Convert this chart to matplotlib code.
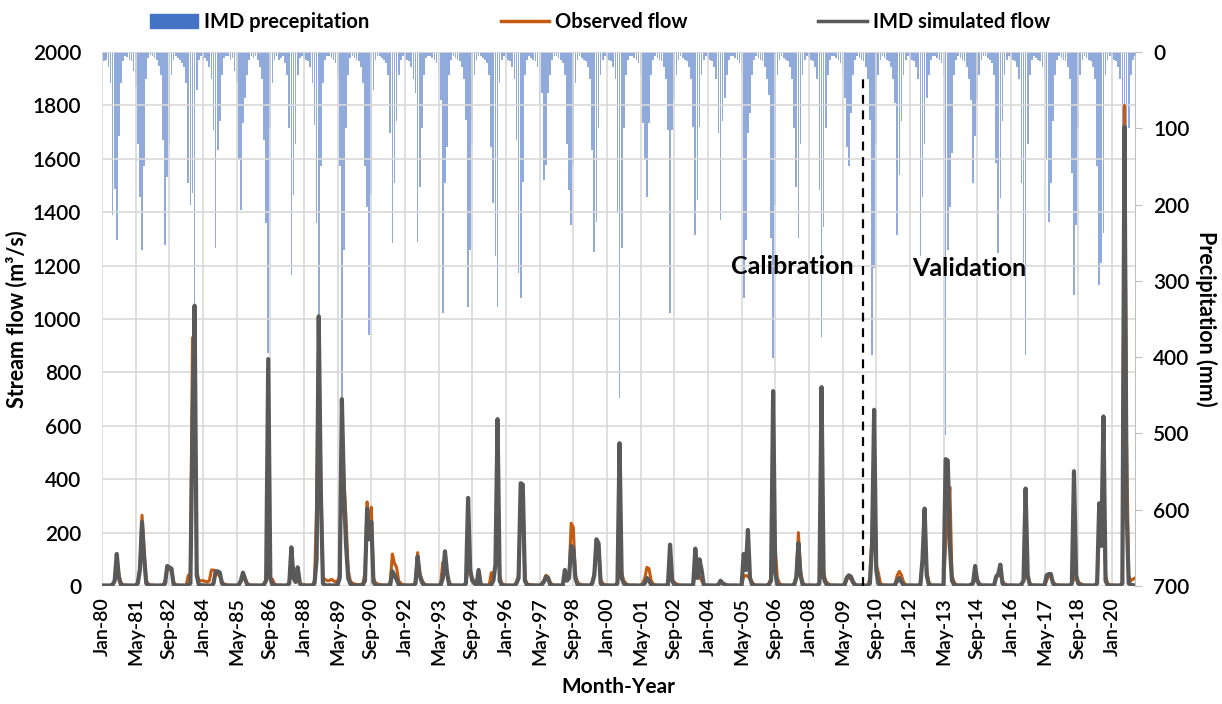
import matplotlib.pyplot as plt
from matplotlib.patches import Patch
from matplotlib.lines import Line2D
import numpy as np

plt.rcParams['font.family'] = ['Lato', 'DejaVu Sans']

# ============================================
# Monthly series, Jan-1980 .. Dec-2020 (one row per year, Jan..Dec)
# ============================================
precip = [
    8, 12, 10, 20, 40, 214, 180, 246, 110, 40, 12, 5,      # 1980
    6, 10, 12, 25, 45, 120, 190, 260, 150, 35, 8, 4,       # 1981
    5, 8, 10, 18, 30, 115, 253, 164, 120, 30, 10, 5,       # 1982
    8, 10, 15, 20, 40, 172, 200, 185, 330, 50, 10, 5,      # 1983
    10, 8, 12, 20, 35, 102, 257, 128, 90, 30, 8, 5,        # 1984
    5, 10, 8, 25, 40, 142, 207, 93, 60, 30, 10, 5,         # 1985
    8, 5, 10, 20, 35, 115, 224, 395, 100, 40, 10, 5,       # 1986
    10, 8, 5, 15, 30, 100, 292, 187, 120, 30, 8, 5,        # 1987
    8, 10, 12, 20, 40, 96, 224, 347, 150, 40, 10, 5,       # 1988
    5, 8, 10, 15, 35, 150, 453, 260, 100, 30, 8, 5,        # 1989
    8, 10, 12, 20, 40, 150, 203, 371, 187, 50, 10, 5,      # 1990
    5, 8, 10, 15, 30, 106, 250, 172, 90, 30, 10, 5,        # 1991
    8, 10, 12, 20, 35, 54, 249, 177, 100, 30, 8, 5,        # 1992
    5, 8, 10, 15, 30, 63, 342, 172, 124, 30, 10, 5,        # 1993
    8, 10, 12, 20, 35, 89, 334, 260, 120, 30, 10, 5,       # 1994
    5, 8, 10, 15, 30, 124, 198, 268, 334, 40, 10, 5,       # 1995
    8, 10, 12, 20, 35, 115, 290, 322, 170, 30, 10, 5,      # 1996
    8, 10, 12, 20, 69, 54, 168, 148, 54, 30, 10, 5,        # 1997
    5, 8, 10, 15, 30, 120, 181, 227, 150, 40, 10, 5,       # 1998
    8, 10, 12, 20, 35, 128, 262, 223, 100, 30, 10, 5,      # 1999
    8, 10, 12, 20, 35, 211, 453, 257, 100, 30, 10, 5,      # 2000
    5, 8, 10, 15, 30, 93, 142, 190, 93, 30, 10, 5,         # 2001
    8, 10, 12, 20, 35, 102, 342, 102, 60, 30, 10, 5,       # 2002
    8, 10, 12, 20, 35, 98, 240, 194, 98, 30, 10, 5,        # 2003
    8, 10, 12, 20, 35, 106, 220, 90, 60, 30, 10, 5,        # 2004
    5, 8, 10, 15, 30, 322, 246, 106, 80, 30, 10, 5,        # 2005
    8, 10, 12, 20, 35, 56, 244, 401, 200, 30, 10, 5,       # 2006
    8, 10, 12, 20, 35, 100, 177, 244, 120, 30, 10, 5,      # 2007
    8, 10, 12, 20, 35, 181, 373, 229, 100, 30, 10, 5,      # 2008
    5, 8, 10, 15, 30, 60, 124, 150, 80, 30, 10, 5,         # 2009
    8, 10, 12, 20, 35, 89, 397, 283, 120, 30, 10, 5,       # 2010
    8, 10, 12, 20, 35, 67, 240, 161, 90, 30, 10, 5,        # 2011
    8, 10, 12, 20, 35, 268, 190, 120, 60, 30, 10, 5,       # 2012
    5, 8, 10, 15, 30, 502, 260, 203, 132, 30, 10, 5,       # 2013
    8, 10, 12, 20, 35, 63, 172, 110, 63, 30, 10, 5,        # 2014
    5, 8, 10, 15, 30, 146, 264, 192, 90, 30, 10, 5,        # 2015
    8, 10, 12, 20, 35, 172, 277, 397, 120, 30, 10, 5,      # 2016
    8, 10, 12, 20, 35, 142, 223, 172, 90, 30, 10, 5,       # 2017
    8, 10, 12, 20, 35, 159, 318, 227, 100, 30, 10, 5,      # 2018
    8, 10, 12, 20, 35, 150, 305, 277, 237, 30, 10, 5,      # 2019
    8, 10, 12, 20, 35, 205, 181, 148, 100, 30, 10, 5,      # 2020
]

observed = [
    2, 2, 2, 2, 2, 5, 15, 110, 45, 12, 5, 3,               # 1980
    3, 2, 2, 2, 2, 15, 70, 265, 130, 20, 8, 4,             # 1981
    3, 2, 2, 2, 2, 3, 20, 70, 60, 65, 15, 5,               # 1982
    3, 2, 2, 2, 2, 40, 45, 930, 800, 60, 20, 20,           # 1983
    20, 18, 15, 20, 60, 60, 55, 45, 35, 15, 8, 5,          # 1984
    3, 3, 2, 2, 2, 5, 15, 45, 30, 10, 5, 3,                # 1985
    3, 3, 2, 2, 2, 10, 25, 35, 30, 25, 8, 3,               # 1986
    3, 3, 2, 2, 2, 15, 100, 60, 40, 65, 15, 5,             # 1987
    5, 3, 3, 3, 3, 20, 300, 950, 400, 30, 25, 20,          # 1988
    20, 25, 20, 15, 20, 40, 650, 400, 250, 60, 20, 10,     # 1989
    8, 5, 5, 5, 10, 50, 315, 200, 295, 30, 12, 8,          # 1990
    5, 4, 3, 3, 3, 15, 120, 85, 70, 20, 10, 5,             # 1991
    4, 3, 3, 3, 3, 15, 125, 50, 25, 10, 5, 3,              # 1992
    3, 3, 2, 2, 2, 10, 90, 80, 40, 15, 5, 3,               # 1993
    3, 3, 2, 2, 2, 15, 60, 45, 30, 15, 10, 8,              # 1994
    5, 3, 2, 2, 2, 50, 40, 70, 500, 40, 10, 5,             # 1995
    3, 3, 2, 2, 2, 15, 40, 350, 360, 30, 10, 5,            # 1996
    5, 4, 3, 3, 3, 10, 20, 40, 35, 15, 5, 3,               # 1997
    3, 3, 2, 2, 40, 25, 30, 235, 220, 40, 15, 8,           # 1998
    5, 4, 3, 3, 3, 15, 50, 170, 160, 25, 10, 5,            # 1999
    3, 3, 2, 2, 2, 15, 450, 50, 20, 10, 5, 3,              # 2000
    3, 3, 2, 2, 2, 10, 30, 70, 65, 20, 8, 4,               # 2001
    3, 3, 2, 2, 2, 10, 30, 25, 15, 8, 5, 3,                # 2002
    3, 3, 2, 2, 2, 10, 40, 40, 35, 20, 8, 4,               # 2003
    3, 3, 2, 2, 2, 5, 15, 10, 8, 5, 3, 2,                  # 2004
    3, 3, 2, 2, 2, 35, 40, 35, 30, 15, 5, 3,               # 2005
    3, 3, 2, 2, 2, 10, 30, 100, 140, 30, 10, 5,            # 2006
    3, 3, 2, 2, 2, 10, 40, 200, 60, 15, 5, 3,              # 2007
    3, 3, 2, 2, 2, 15, 600, 50, 20, 10, 5, 3,              # 2008
    3, 3, 2, 2, 2, 10, 35, 30, 25, 10, 5, 3,               # 2009
    3, 3, 2, 2, 2, 30, 200, 500, 80, 50, 10, 5,            # 2010
    3, 3, 2, 2, 2, 10, 40, 55, 40, 15, 5, 3,               # 2011
    3, 3, 2, 2, 2, 10, 100, 200, 60, 15, 5, 3,             # 2012
    3, 3, 2, 2, 2, 150, 250, 370, 40, 15, 5, 3,            # 2013
    3, 3, 2, 2, 2, 5, 15, 60, 25, 10, 5, 3,                # 2014
    3, 3, 2, 2, 2, 30, 40, 40, 20, 8, 4, 3,                # 2015
    3, 3, 2, 2, 2, 10, 20, 40, 30, 10, 5, 3,               # 2016
    3, 3, 2, 2, 2, 20, 40, 35, 15, 8, 4, 3,                # 2017
    3, 3, 2, 2, 2, 10, 25, 30, 15, 10, 5, 3,               # 2018
    3, 3, 2, 2, 2, 15, 200, 150, 500, 40, 10, 5,           # 2019
    3, 3, 2, 2, 2, 15, 1800, 545, 40, 20, 25, 30,          # 2020
]

simulated = [
    2, 2, 2, 2, 2, 5, 20, 120, 30, 5, 2, 2,                # 1980
    2, 2, 2, 2, 2, 10, 60, 240, 110, 10, 3, 2,             # 1981
    2, 2, 2, 2, 2, 3, 10, 75, 70, 65, 5, 2,                # 1982
    2, 2, 2, 2, 2, 5, 10, 600, 1050, 40, 5, 2,             # 1983
    3, 2, 2, 2, 2, 10, 55, 55, 50, 10, 3, 2,               # 1984
    2, 2, 2, 2, 2, 5, 20, 50, 25, 5, 2, 2,                 # 1985
    2, 2, 2, 2, 2, 5, 20, 850, 30, 5, 2, 2,                # 1986
    2, 2, 2, 2, 2, 10, 145, 30, 15, 70, 10, 2,             # 1987
    2, 2, 2, 2, 2, 10, 100, 1010, 350, 10, 3, 2,           # 1988
    3, 2, 2, 2, 5, 30, 700, 350, 150, 30, 8, 3,            # 1989
    2, 2, 2, 2, 5, 20, 290, 175, 240, 15, 3, 2,            # 1990
    2, 2, 2, 2, 2, 5, 55, 40, 25, 5, 2, 2,                 # 1991
    2, 2, 2, 2, 2, 10, 110, 40, 15, 3, 2, 2,               # 1992
    2, 2, 2, 2, 2, 5, 30, 130, 50, 5, 2, 2,                # 1993
    2, 2, 2, 2, 2, 10, 330, 60, 20, 10, 5, 60,             # 1994
    5, 2, 2, 2, 2, 5, 20, 80, 625, 20, 3, 2,               # 1995
    2, 2, 2, 2, 2, 10, 30, 385, 380, 20, 3, 2,             # 1996
    2, 2, 2, 2, 2, 5, 15, 35, 30, 5, 2, 2,                 # 1997
    2, 2, 2, 2, 60, 20, 30, 150, 140, 30, 5, 2,            # 1998
    2, 2, 2, 2, 2, 10, 40, 175, 160, 10, 3, 2,             # 1999
    2, 2, 2, 2, 2, 10, 535, 30, 10, 3, 2, 2,               # 2000
    2, 2, 2, 2, 2, 5, 10, 30, 20, 5, 2, 2,                 # 2001
    2, 2, 2, 2, 2, 5, 155, 20, 5, 2, 2, 2,                 # 2002
    2, 2, 2, 2, 2, 5, 140, 30, 100, 60, 5, 2,              # 2003
    2, 2, 2, 2, 2, 5, 20, 10, 5, 2, 2, 2,                  # 2004
    2, 2, 2, 2, 2, 120, 60, 210, 30, 5, 2, 2,              # 2005
    2, 2, 2, 2, 2, 5, 20, 730, 50, 5, 2, 2,                # 2006
    2, 2, 2, 2, 2, 5, 30, 160, 40, 5, 2, 2,                # 2007
    2, 2, 2, 2, 2, 10, 745, 30, 10, 3, 2, 2,               # 2008
    2, 2, 2, 2, 2, 5, 30, 40, 35, 15, 3, 2,                # 2009
    2, 2, 2, 2, 2, 10, 150, 660, 60, 10, 3, 2,             # 2010
    2, 2, 2, 2, 2, 5, 20, 30, 15, 3, 2, 2,                 # 2011
    2, 2, 2, 2, 2, 5, 100, 290, 40, 5, 2, 2,               # 2012
    2, 2, 2, 2, 2, 475, 470, 150, 20, 5, 2, 2,             # 2013
    2, 2, 2, 2, 2, 5, 10, 75, 20, 5, 2, 2,                 # 2014
    2, 2, 2, 2, 2, 35, 45, 80, 10, 3, 2, 2,                # 2015
    2, 2, 2, 2, 2, 5, 20, 365, 40, 5, 2, 2,                # 2016
    2, 2, 2, 2, 2, 40, 45, 45, 10, 3, 2, 2,                # 2017
    2, 2, 2, 2, 2, 10, 430, 40, 10, 5, 2, 2,               # 2018
    2, 2, 2, 2, 2, 10, 310, 150, 635, 20, 3, 2,            # 2019
    2, 2, 2, 2, 2, 10, 1720, 290, 10, 5, 3, 2,             # 2020
]

tick_labels = ['Jan-80', 'May-81', 'Sep-82', 'Jan-84', 'May-85', 'Sep-86',
               'Jan-88', 'May-89', 'Sep-90', 'Jan-92', 'May-93', 'Sep-94',
               'Jan-96', 'May-97', 'Sep-98', 'Jan-00', 'May-01', 'Sep-02',
               'Jan-04', 'May-05', 'Sep-06', 'Jan-08', 'May-09', 'Sep-10',
               'Jan-12', 'May-13', 'Sep-14', 'Jan-16', 'May-17', 'Sep-18',
               'Jan-20']
tick_step = 16            # one label every 16 months
split_month = 361.5       # calibration / validation boundary

months = np.arange(len(precip))

# ============================================
# Figure
# ============================================
fig = plt.figure(figsize=(12.22, 7.04), dpi=100)
ax = fig.add_axes([0.0835, 0.1676, 0.8453, 0.7585])
ax2 = ax.twinx()

# precipitation bars on the inverted right axis
ax2.bar(months, precip, width=0.8, color='#4472C4', alpha=0.6, linewidth=0)
ax2.set_ylim(700, 0)
ax2.set_yticks(np.arange(0, 701, 100))
ax2.tick_params(axis='y', length=5, color='#BFBFBF', labelsize=15, pad=8)
for s in ['top', 'left', 'bottom']:
    ax2.spines[s].set_visible(False)
ax2.spines['right'].set_color('#BFBFBF')
ax2.set_ylabel('Precipitation (mm)', fontsize=15.5, fontweight='bold',
               rotation=270, labelpad=20)

# flow lines on the left axis, drawn above the bars
ax.set_zorder(ax2.get_zorder() + 1)
ax.patch.set_visible(False)
ax.plot(months, observed, color='#C55A11', lw=2.2, zorder=3)
ax.plot(months, simulated, color='#595959', lw=3.0, zorder=4)

ax.set_xlim(0, len(precip) - 1)
ax.set_ylim(0, 2000)
ax.set_yticks(np.arange(0, 2001, 200))
ax.set_xticks(np.arange(0, len(precip), tick_step)[:len(tick_labels)])
ax.set_xticklabels(tick_labels, rotation=90)
ax.tick_params(axis='y', length=0, labelsize=15, pad=15)
ax.tick_params(axis='x', length=0, labelsize=14, pad=8)
ax.grid(True, color='#D9D9D9', lw=1.2)
for s in ax.spines.values():
    s.set_visible(False)
for lab in ax.get_xticklabels() + ax.get_yticklabels() + ax2.get_yticklabels():
    lab.set_fontweight('semibold')

ax.set_ylabel('Stream flow (m³/s)', fontsize=15.5, fontweight='bold', labelpad=4)
ax.set_xlabel('Month-Year', fontsize=15, fontweight='bold', labelpad=9)

# calibration / validation split
ax.plot([split_month, split_month], [0, 1905], color='black', lw=1.6,
        ls=(0, (4, 3)), zorder=5)
ax.text(328, 1195, 'Calibration', fontsize=18, fontweight='bold',
        ha='center', va='center')
ax.text(412, 1190, 'Validation', fontsize=18, fontweight='bold',
        ha='center', va='center')

handles = [Patch(color='#4472C4'),
           Line2D([0], [0], color='#C55A11', lw=2.5),
           Line2D([0], [0], color='#595959', lw=2.5)]
labels = ['IMD precepitation', 'Observed flow', 'IMD simulated flow']
fig.legend(handles, labels, loc='upper center', bbox_to_anchor=(0.491, 1.008),
           ncol=3, frameon=False, handlelength=2.4, handletextpad=0.3,
           columnspacing=6.5, prop={'size': 14.5, 'weight': 'bold'})

plt.savefig('out.png', dpi=100)
